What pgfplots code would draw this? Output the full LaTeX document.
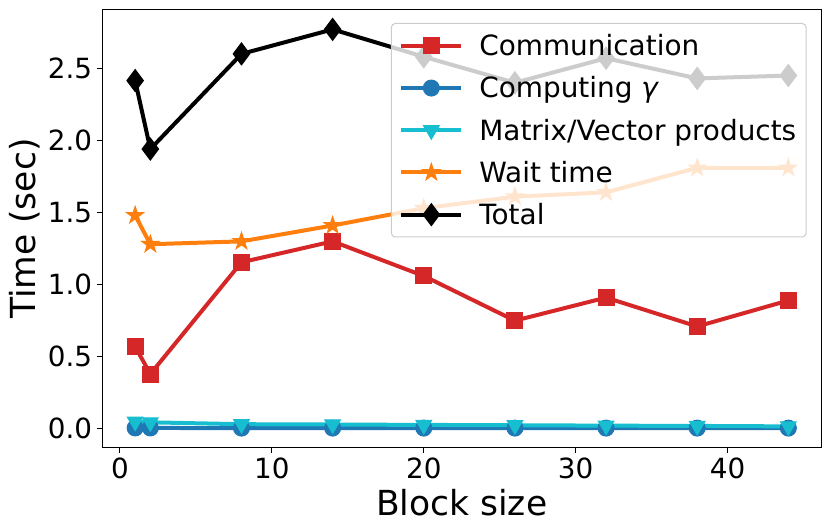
\documentclass[border=0pt]{standalone}
\usepackage{fontspec}
\setmainfont{DejaVu Sans}
\usepackage{pgfplots}
\pgfplotsset{compat=1.18}
\definecolor{cRed}{HTML}{D62728}
\definecolor{cBlue}{HTML}{1F77B4}
\definecolor{cCyan}{HTML}{17BECF}
\definecolor{cOrange}{HTML}{FF7F0E}
\pgfdeclareplotmark{fstar}{%
  \pgfpathmoveto{\pgfpointpolar{90}{\pgfplotmarksize}}%
  \pgfpathlineto{\pgfpointpolar{126}{0.382\pgfplotmarksize}}%
  \pgfpathlineto{\pgfpointpolar{162}{\pgfplotmarksize}}%
  \pgfpathlineto{\pgfpointpolar{198}{0.382\pgfplotmarksize}}%
  \pgfpathlineto{\pgfpointpolar{234}{\pgfplotmarksize}}%
  \pgfpathlineto{\pgfpointpolar{270}{0.382\pgfplotmarksize}}%
  \pgfpathlineto{\pgfpointpolar{306}{\pgfplotmarksize}}%
  \pgfpathlineto{\pgfpointpolar{342}{0.382\pgfplotmarksize}}%
  \pgfpathlineto{\pgfpointpolar{18}{\pgfplotmarksize}}%
  \pgfpathlineto{\pgfpointpolar{54}{0.382\pgfplotmarksize}}%
  \pgfpathclose\pgfusepathqfillstroke}
\begin{document}
\begin{tikzpicture}
\begin{axis}[
  scale only axis, width=718.5pt, height=438.5pt,
  xmin=-1.15, xmax=46.15, ymin=-0.133, ymax=2.908,
  xtick={0,10,20,30,40}, ytick={0,0.5,1,1.5,2,2.5},
  tick align=outside, major tick length=5pt,
  xtick pos=bottom, ytick pos=left,
  every tick/.style={black, line width=1pt},
  axis line style={line width=1pt},
  /pgf/number format/assume math mode=true,
  tick label style={font=\fontsize{27.8}{33}\selectfont},
  yticklabel style={/pgf/number format/fixed, /pgf/number format/fixed zerofill, /pgf/number format/precision=1},
  xlabel={Block size}, ylabel={Time (sec)},
  label style={font=\fontsize{34.5}{41}\selectfont},
  xlabel style={at={(axis description cs:0.5,-0.1528)}, anchor=base},
  ylabel style={at={(axis description cs:-0.0933,0.5)}, anchor=base},
  legend cell align=left,
  legend image code/.code={\draw[line width=4pt, fill opacity=1, draw opacity=1, mark repeat=2,mark phase=2] plot coordinates {(0pt,0pt)(30pt,0pt)(60pt,0pt)};},
  legend style={at={(1,1)}, anchor=north east, xshift=-14.3pt, yshift=-13.5pt,
    draw=black!20, fill=white, fill opacity=0.8, draw opacity=1, text opacity=1,
    rounded corners=4pt, line width=1pt, font=\fontsize{27.9}{33}\selectfont,
    row sep=15.5pt, column sep=14pt, inner xsep=8pt, inner ysep=9pt},
  line width=4pt,
]
\addplot[color=cRed, mark=square*, mark size=8pt, mark options={solid, fill=cRed, draw=cRed, line width=1pt}]
  coordinates {(1,0.57)(2,0.38)(8,1.155)(14,1.30)(20,1.06)(26,0.75)(32,0.91)(38,0.71)(44,0.89)};
\addlegendentry{Communication}
\addplot[color=cBlue, mark=*, mark size=8pt, mark options={solid, fill=cBlue, draw=cBlue, line width=1pt}]
  coordinates {(1,0.006)(2,0.006)(8,0.005)(14,0.005)(20,0.005)(26,0.005)(32,0.005)(38,0.005)(44,0.005)};
\addlegendentry{Computing \textit{γ}}
\addplot[color=cCyan, mark=triangle*, mark size=9pt, mark options={solid, rotate=180, fill=cCyan, draw=cCyan, line width=1pt}]
  coordinates {(1,0.05)(2,0.045)(8,0.032)(14,0.03)(20,0.027)(26,0.025)(32,0.022)(38,0.02)(44,0.017)};
\addlegendentry{Matrix/Vector products}
\addplot[color=cOrange, mark=fstar, mark size=9pt, mark options={solid, fill=cOrange, draw=cOrange, line width=1pt}]
  coordinates {(1,1.48)(2,1.28)(8,1.30)(14,1.41)(20,1.53)(26,1.61)(32,1.64)(38,1.81)(44,1.81)};
\addlegendentry{Wait time}
\addplot[color=black, mark=diamond*, mark size=11pt, mark options={solid, fill=black, draw=black, line width=1pt}]
  coordinates {(1,2.415)(2,1.94)(8,2.60)(14,2.77)(20,2.58)(26,2.40)(32,2.57)(38,2.43)(44,2.45)};
\addlegendentry{Total}
\end{axis}
\pgfresetboundingbox
\path[use as bounding box] ([shift={(-102.5pt,-84pt)}]current axis.south west) rectangle ([shift={(10pt,9.5pt)}]current axis.north east);
\end{tikzpicture}
\end{document}
